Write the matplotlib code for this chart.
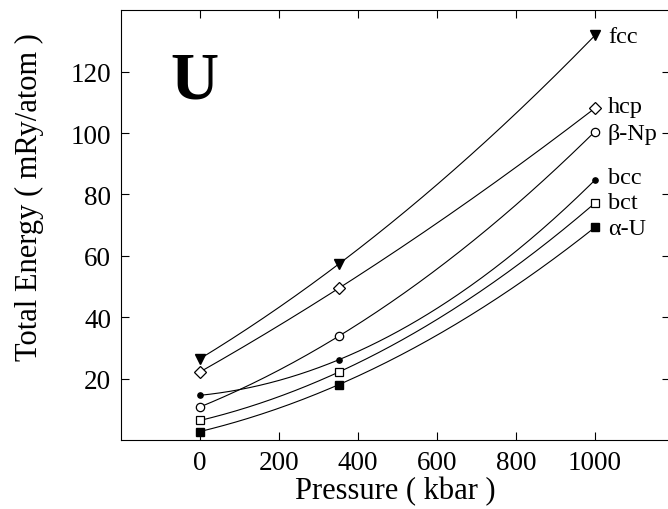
#!/usr/bin/env python3
import numpy as np
import matplotlib

matplotlib.use("Agg")
import matplotlib.pyplot as plt

# pressures (kbar) where energies were computed
pressure = [0, 352, 1000]

phases = ["fcc", "hcp", "β-Np", "bcc", "bct", "α-U"]
fcc = [26.5, 57.4, 131.8]
hcp = [22.2, 49.5, 108.1]
beta_np = [10.8, 33.9, 100.5]
bcc = [14.6, 26.2, 84.7]
bct = [6.4, 22.2, 77.2]
alpha_u = [2.8, 18.1, 69.3]
series = [fcc, hcp, beta_np, bcc, bct, alpha_u]

# label heights at the right-hand end
label_y = [131.5, 108.5, 100.0, 85.5, 77.3, 69.0]

markers = [
    dict(marker="v", ms=6.5, mfc="black", mec="black"),
    dict(marker="D", ms=6, mfc="white", mec="black", mew=0.9),
    dict(marker="o", ms=6, mfc="white", mec="black", mew=0.9),
    dict(marker="o", ms=3.8, mfc="black", mec="black"),
    dict(marker="s", ms=6, mfc="white", mec="black", mew=0.9),
    dict(marker="s", ms=6, mfc="black", mec="black"),
]

plt.rcParams["font.family"] = ["Liberation Serif", "DejaVu Serif"]

fig = plt.figure(figsize=(6.68, 5.10), dpi=100)
ax = fig.add_axes([0.181, 0.135, 0.822, 0.843])

xs = np.linspace(pressure[0], pressure[-1], 200)
for name, vals, mk, ly in zip(phases, series, markers, label_y):
    coef = np.polyfit(pressure, vals, 2)
    ax.plot(xs, np.polyval(coef, xs), color="black", lw=0.8)
    ax.plot(pressure, vals, ls="none", **mk)
    ax.text(1033, ly, name, fontsize=17.5, va="center", ha="left")

ax.text(-15, 117, "U", fontsize=48, fontweight="bold", ha="center", va="center")

ax.set_xlim(-200, 1190)
ax.set_ylim(0, 140)
ax.set_xticks([0, 200, 400, 600, 800, 1000])
ax.set_yticks([20, 40, 60, 80, 100, 120])
ax.tick_params(direction="in", top=True, right=True, length=6, width=0.8, labelsize=19.5, pad=7)
ax.spines["right"].set_visible(False)
for s in ("left", "top", "bottom"):
    ax.spines[s].set_linewidth(0.8)

ax.set_xlabel("Pressure ( kbar )", fontsize=22, labelpad=1)
ax.set_ylabel("Total Energy ( mRy/atom )", fontsize=22)
ax.yaxis.set_label_coords(-0.14, 0.567)

fig.savefig("out.png", dpi=100)
